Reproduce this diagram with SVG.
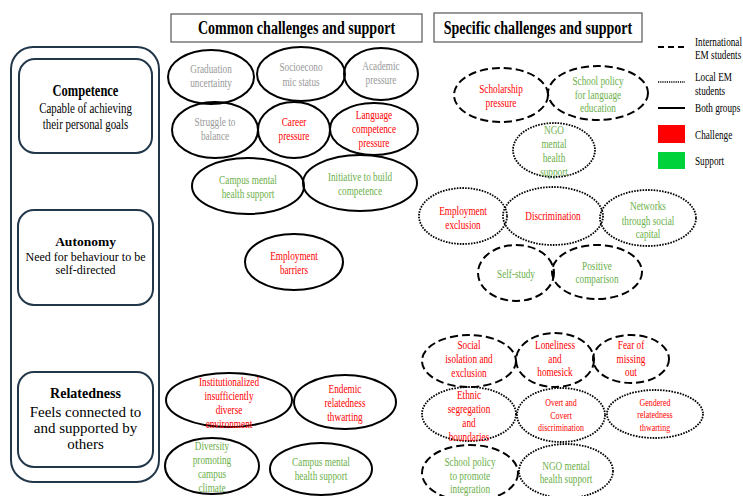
<svg xmlns="http://www.w3.org/2000/svg" width="743" height="496" viewBox="0 0 743 496" font-family="'Liberation Serif', 'DejaVu Serif', serif">
<style>
text{font-family:'Liberation Serif','DejaVu Serif',serif;text-anchor:middle}
.e{fill:none;stroke:#000;stroke-width:2}
.da{stroke-dasharray:8 4}
.do{stroke-dasharray:1.6 1.2;stroke-width:1.8}
.t{font-size:12.5px}
.s{font-size:10.5px}
.g{fill:#999999}
.r{fill:#ff0000}
.n{fill:#6cb04a}
.box{fill:none;stroke:#22384a;stroke-width:2}
.title{font-size:19px;font-weight:bold;fill:#000}
.lg{font-size:11.5px;text-anchor:start;fill:#000}
</style>
<rect width="743" height="496" fill="#fff"/>

<g id="title-common"><rect x="171" y="14" width="251" height="28" fill="none" stroke="#555" stroke-width="1.2"/>
<text class="title" transform="matrix(0.74 0 0 1 296.5 0)"><tspan x="0" y="34">Common challenges and support</tspan></text></g>
<g id="title-specific"><rect x="434" y="13" width="208" height="29" fill="none" stroke="#555" stroke-width="1.2"/>
<text class="title" transform="matrix(0.74 0 0 1 538 0)"><tspan x="0" y="34">Specific challenges and support</tspan></text></g>

<g id="needs-frame"><rect class="box" x="11" y="47" width="148" height="435" rx="22"/></g>
<g id="competence"><rect class="box" x="19" y="59" width="133" height="94" rx="16"/>
<text transform="matrix(0.78 0 0 1 85.5 0)"><tspan x="0" y="96" font-size="16" font-weight="bold">Competence</tspan><tspan x="0" y="113" font-size="14">Capable of achieving</tspan><tspan x="0" y="129" font-size="14">their personal goals</tspan></text></g>
<g id="autonomy"><rect class="box" x="18" y="210" width="135" height="95" rx="16"/>
<text transform="translate(85.5 0)"><tspan x="0" y="246" font-size="13.5" font-weight="bold">Autonomy</tspan><tspan x="0" y="261" font-size="12">Need for behaviour to be</tspan><tspan x="0" y="274" font-size="12">self-directed</tspan></text></g>
<g id="relatedness"><rect class="box" x="18" y="372" width="135" height="95" rx="16"/>
<text transform="translate(85.5 0)"><tspan x="0" y="398" font-size="14" font-weight="bold">Relatedness</tspan><tspan x="0" y="417" font-size="15">Feels connected to</tspan><tspan x="0" y="433" font-size="15">and supported by</tspan><tspan x="0" y="449" font-size="15">others</tspan></text></g>

<!-- Common: competence -->
<g id="c-graduation"><ellipse class="e" cx="211" cy="77" rx="43" ry="27"/>
<text class="t g" transform="matrix(0.74 0 0 1 211 0)"><tspan x="0" y="73">Graduation</tspan><tspan x="0" y="87">uncertainty</tspan></text></g>
<g id="c-socio"><ellipse class="e" cx="301" cy="74" rx="44" ry="27"/>
<text class="t g" transform="matrix(0.74 0 0 1 301 0)"><tspan x="0" y="71">Socioecono</tspan><tspan x="0" y="86">mic status</tspan></text></g>
<g id="c-academic"><ellipse class="e" cx="381" cy="74" rx="37" ry="26"/>
<text class="t g" transform="matrix(0.74 0 0 1 381 0)"><tspan x="0" y="70">Academic</tspan><tspan x="0" y="84">pressure</tspan></text></g>
<g id="c-struggle"><ellipse class="e" cx="215" cy="130" rx="43" ry="28"/>
<text class="t g" transform="matrix(0.74 0 0 1 215 0)"><tspan x="0" y="126">Struggle to</tspan><tspan x="0" y="140">balance</tspan></text></g>
<g id="c-career"><ellipse class="e" cx="294" cy="130" rx="36" ry="28"/>
<text class="t r" transform="matrix(0.74 0 0 1 294 0)"><tspan x="0" y="126">Career</tspan><tspan x="0" y="140">pressure</tspan></text></g>
<g id="c-language"><ellipse class="e" cx="374" cy="129" rx="44" ry="26"/>
<text class="t r" transform="matrix(0.74 0 0 1 374 0)"><tspan x="0" y="119">Language</tspan><tspan x="0" y="133">competence</tspan><tspan x="0" y="147">pressure</tspan></text></g>
<g id="c-campus1"><ellipse class="e" cx="248" cy="186" rx="56" ry="28"/>
<text class="t n" transform="matrix(0.74 0 0 1 248 0)"><tspan x="0" y="184">Campus mental</tspan><tspan x="0" y="198">health support</tspan></text></g>
<g id="c-initiative"><ellipse class="e" cx="360" cy="183" rx="57" ry="28"/>
<text class="t n" transform="matrix(0.74 0 0 1 360 0)"><tspan x="0" y="181">Initiative to build</tspan><tspan x="0" y="195">competence</tspan></text></g>

<!-- Common: autonomy -->
<g id="c-employment"><ellipse class="e" cx="294" cy="262" rx="49" ry="28"/>
<text class="t r" transform="matrix(0.74 0 0 1 294 0)"><tspan x="0" y="260">Employment</tspan><tspan x="0" y="274">barriers</tspan></text></g>

<!-- Common: relatedness -->
<g id="c-institutional"><ellipse class="e" cx="229" cy="400" rx="63" ry="27"/>
<text class="t r" transform="matrix(0.74 0 0 1 229 0)"><tspan x="0" y="386">Institutionalized</tspan><tspan x="0" y="400">insufficiently</tspan><tspan x="0" y="414">diverse</tspan><tspan x="0" y="428">environment</tspan></text></g>
<g id="c-endemic"><ellipse class="e" cx="345" cy="402" rx="51" ry="27"/>
<text class="t r" transform="matrix(0.74 0 0 1 345 0)"><tspan x="0" y="393">Endemic</tspan><tspan x="0" y="407">relatedness</tspan><tspan x="0" y="421">thwarting</tspan></text></g>
<g id="c-diversity"><ellipse class="e" cx="212" cy="466" rx="47" ry="28"/>
<text class="t n" transform="matrix(0.74 0 0 1 212 0)"><tspan x="0" y="450">Diversity</tspan><tspan x="0" y="464">promoting</tspan><tspan x="0" y="478">campus</tspan><tspan x="0" y="492">climate</tspan></text></g>
<g id="c-campus2"><ellipse class="e" cx="321" cy="469" rx="51" ry="26"/>
<text class="t n" transform="matrix(0.74 0 0 1 321 0)"><tspan x="0" y="466">Campus mental</tspan><tspan x="0" y="480">health support</tspan></text></g>

<!-- Specific: competence -->
<g id="s-scholarship"><ellipse class="e da" cx="501" cy="95" rx="47" ry="27"/>
<text class="t r" transform="matrix(0.74 0 0 1 501 0)"><tspan x="0" y="93">Scholarship</tspan><tspan x="0" y="107">pressure</tspan></text></g>
<g id="s-schoolpolicy"><ellipse class="e da" cx="598" cy="93" rx="50" ry="27"/>
<text class="t n" transform="matrix(0.74 0 0 1 598 0)"><tspan x="0" y="85">School policy</tspan><tspan x="0" y="99">for language</tspan><tspan x="0" y="112">education</tspan></text></g>
<g id="s-ngo1"><ellipse class="e do" cx="554" cy="150" rx="41" ry="27"/>
<text class="t n" transform="matrix(0.74 0 0 1 554 0)"><tspan x="0" y="134">NGO</tspan><tspan x="0" y="148">mental</tspan><tspan x="0" y="162">health</tspan><tspan x="0" y="176">support</tspan></text></g>

<!-- Specific: autonomy -->
<g id="s-empexcl"><ellipse class="e do" cx="463" cy="216" rx="44" ry="28"/>
<text class="t r" transform="matrix(0.74 0 0 1 463 0)"><tspan x="0" y="215">Employment</tspan><tspan x="0" y="229">exclusion</tspan></text></g>
<g id="s-discrimination"><ellipse class="e do" cx="553" cy="216" rx="50" ry="29"/>
<text class="t r" transform="matrix(0.74 0 0 1 553 0)"><tspan x="0" y="220">Discrimination</tspan></text></g>
<g id="s-networks"><ellipse class="e do" cx="648" cy="218" rx="48" ry="28"/>
<text class="t n" transform="matrix(0.74 0 0 1 648 0)"><tspan x="0" y="210">Networks</tspan><tspan x="0" y="225">through social</tspan><tspan x="0" y="238">capital</tspan></text></g>
<g id="s-selfstudy"><ellipse class="e da" cx="516" cy="273" rx="38" ry="28"/>
<text class="t n" transform="matrix(0.74 0 0 1 516 0)"><tspan x="0" y="278">Self-study</tspan></text></g>
<g id="s-positive"><ellipse class="e da" cx="597" cy="272" rx="45" ry="27"/>
<text class="t n" transform="matrix(0.74 0 0 1 597 0)"><tspan x="0" y="270">Positive</tspan><tspan x="0" y="283">comparison</tspan></text></g>

<!-- Specific: relatedness -->
<g id="s-social"><ellipse class="e da" cx="469" cy="361" rx="47" ry="26"/>
<text class="t r" transform="matrix(0.74 0 0 1 469 0)"><tspan x="0" y="349">Social</tspan><tspan x="0" y="363">isolation and</tspan><tspan x="0" y="377">exclusion</tspan></text></g>
<g id="s-loneliness"><ellipse class="e da" cx="555" cy="360" rx="39" ry="27"/>
<text class="t r" transform="matrix(0.74 0 0 1 555 0)"><tspan x="0" y="349">Loneliness</tspan><tspan x="0" y="363">and</tspan><tspan x="0" y="376">homesick</tspan></text></g>
<g id="s-fomo"><ellipse class="e da" cx="631" cy="359" rx="38" ry="24"/>
<text class="t r" transform="matrix(0.74 0 0 1 631 0)"><tspan x="0" y="349">Fear of</tspan><tspan x="0" y="363">missing</tspan><tspan x="0" y="376">out</tspan></text></g>
<g id="s-ethnic"><ellipse class="e do" cx="469" cy="414" rx="47" ry="27"/>
<text class="t r" transform="matrix(0.74 0 0 1 469 0)"><tspan x="0" y="399">Ethnic</tspan><tspan x="0" y="413">segregation</tspan><tspan x="0" y="427">and</tspan><tspan x="0" y="441">boundaries</tspan></text></g>
<g id="s-overt"><ellipse class="e do" cx="561" cy="415" rx="44" ry="27"/>
<text class="s r" transform="matrix(0.76 0 0 1 561 0)"><tspan x="0" y="406">Overt and</tspan><tspan x="0" y="419">Covert</tspan><tspan x="0" y="431">discrimination</tspan></text></g>
<g id="s-gendered"><ellipse class="e do" cx="655" cy="414" rx="48" ry="24"/>
<text class="s r" transform="matrix(0.76 0 0 1 655 0)"><tspan x="0" y="406">Gendered</tspan><tspan x="0" y="418">relatedness</tspan><tspan x="0" y="431">thwarting</tspan></text></g>
<g id="s-integration"><ellipse class="e da" cx="470" cy="473" rx="48" ry="28"/>
<text class="t n" transform="matrix(0.74 0 0 1 470 0)"><tspan x="0" y="466">School policy</tspan><tspan x="0" y="480">to promote</tspan><tspan x="0" y="493">integration</tspan></text></g>
<g id="s-ngo2"><ellipse class="e do" cx="566" cy="471" rx="47" ry="27"/>
<text class="t n" transform="matrix(0.74 0 0 1 566 0)"><tspan x="0" y="470">NGO mental</tspan><tspan x="0" y="483">health support</tspan></text></g>

<g id="connectors"></g>

<g id="legend">
<line x1="658" y1="47" x2="685" y2="47" stroke="#000" stroke-width="2" stroke-dasharray="6 4"/>
<text class="lg" transform="matrix(0.8 0 0 1 695 0)"><tspan x="0" y="46">International</tspan><tspan x="0" y="59">EM students</tspan></text>
<line x1="658" y1="82" x2="685" y2="82" stroke="#000" stroke-width="1.6" stroke-dasharray="1.2 1"/>
<text class="lg" transform="matrix(0.8 0 0 1 695 0)"><tspan x="0" y="81">Local EM</tspan><tspan x="0" y="95">students</tspan></text>
<line x1="658" y1="108" x2="685" y2="108" stroke="#000" stroke-width="2"/>
<text class="lg" transform="matrix(0.8 0 0 1 695 0)"><tspan x="0" y="112">Both groups</tspan></text>
<rect x="658" y="125" width="27" height="18" fill="#ff0000"/>
<text class="lg" transform="matrix(0.8 0 0 1 695 0)"><tspan x="0" y="139">Challenge</tspan></text>
<rect x="658" y="152" width="27" height="17" fill="#00d23c"/>
<text class="lg" transform="matrix(0.8 0 0 1 695 0)"><tspan x="0" y="165">Support</tspan></text>
</g>
</svg>
